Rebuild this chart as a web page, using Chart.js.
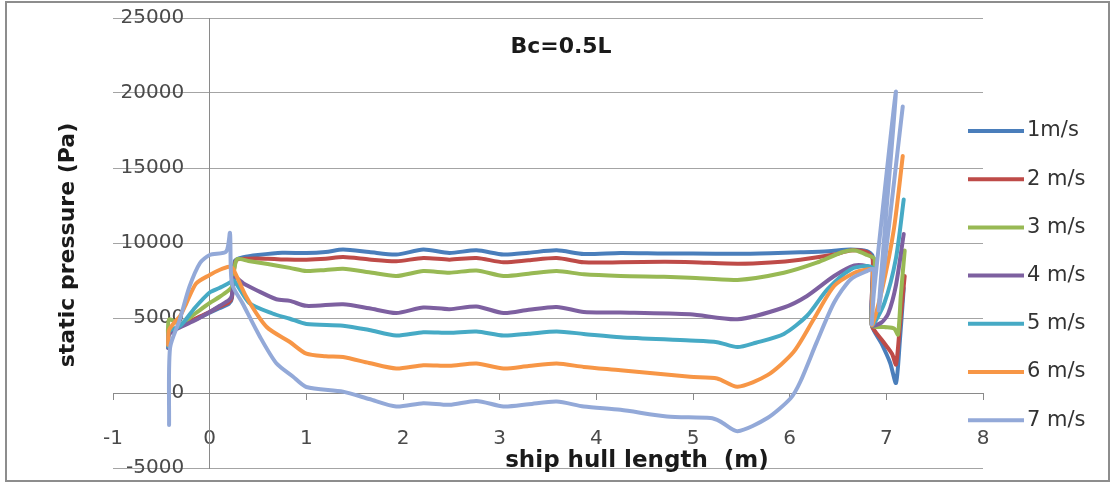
<!DOCTYPE html>
<html>
<head>
<meta charset="utf-8">
<script src="https://cdn.jsdelivr.net/npm/chart.js@4.4.0/dist/chart.umd.min.js"></script>
<style>
  html, body { margin: 0; padding: 0; background: #fff; }
  #wrap { position: relative; width: 1110px; height: 483px; }
  #frame { position: absolute; left: 5px; top: 1px; width: 1101px; height: 477px; border: 2px solid #8d8d8d; pointer-events: none; }
  canvas { display: block; }
</style>
</head>
<body>
<div id="wrap"><canvas id="c" width="1110" height="483"></canvas><div id="frame"></div></div>
<script>
// Static pressure along the hull for seven towing speeds
const speedLabels = ['1m/s', '2 m/s', '3 m/s', '4 m/s', '5 m/s', '6 m/s', '7 m/s'];
const lengthTicks = [-1, 0, 1, 2, 3, 4, 5, 6, 7, 8];
const pressureTicks = [-5000, 0, 5000, 10000, 15000, 20000, 25000];

const hullX1 = [-0.43, -0.42, -0.30, -0.15, 0.00, 0.10, 0.20, 0.23, 0.26, 0.35, 0.50, 0.75, 1.00, 1.20, 1.38, 1.65, 1.93, 2.21, 2.48, 2.76, 3.04, 3.30, 3.59, 3.87, 4.25, 4.70, 5.00, 5.46, 5.80, 6.11, 6.40, 6.63, 6.80, 6.86, 6.85, 6.95, 7.04, 7.10, 7.14, 7.18];
const pressure1 = [3000, 4000, 4450, 4900, 5350, 5650, 5950, 6300, 8800, 9050, 9200, 9350, 9330, 9400, 9560, 9400, 9230, 9560, 9340, 9510, 9230, 9350, 9510, 9270, 9340, 9300, 9300, 9280, 9320, 9380, 9450, 9560, 9450, 9100, 4530, 3300, 2000, 670, 3500, 7000];

const hullX2 = [-0.43, -0.42, -0.30, -0.15, 0.00, 0.10, 0.20, 0.23, 0.27, 0.40, 0.60, 0.80, 1.00, 1.20, 1.38, 1.65, 1.93, 2.21, 2.48, 2.76, 3.04, 3.30, 3.59, 3.87, 4.25, 4.70, 5.00, 5.46, 5.80, 6.11, 6.46, 6.63, 6.80, 6.86, 6.85, 6.97, 7.06, 7.10, 7.14, 7.19];
const pressure2 = [3100, 4050, 4450, 4950, 5400, 5750, 6050, 6400, 8800, 8950, 8950, 8900, 8890, 8950, 9060, 8900, 8780, 9000, 8890, 9000, 8710, 8850, 9000, 8710, 8710, 8750, 8720, 8620, 8700, 8890, 9230, 9500, 9400, 8900, 4530, 3400, 2600, 1900, 4500, 7800];

const hullX3 = [-0.43, -0.42, -0.30, -0.15, 0.00, 0.10, 0.20, 0.23, 0.28, 0.40, 0.60, 0.83, 1.00, 1.20, 1.38, 1.65, 1.93, 2.21, 2.48, 2.76, 3.04, 3.30, 3.59, 3.87, 4.25, 4.70, 4.97, 5.46, 5.94, 6.28, 6.55, 6.68, 6.80, 6.88, 6.85, 6.98, 7.08, 7.12, 7.15, 7.19];
const pressure3 = [3300, 4900, 4600, 5300, 6000, 6400, 6870, 7100, 8900, 8800, 8600, 8340, 8130, 8200, 8280, 8050, 7800, 8130, 8020, 8170, 7800, 7950, 8130, 7910, 7800, 7750, 7690, 7540, 8020, 8690, 9400, 9500, 9200, 8900, 4530, 4400, 4300, 3900, 6500, 9500];

const hullX4 = [-0.43, -0.42, -0.30, -0.15, 0.00, 0.10, 0.20, 0.23, 0.26, 0.35, 0.48, 0.69, 0.83, 1.00, 1.38, 1.65, 1.93, 2.21, 2.48, 2.76, 3.04, 3.30, 3.59, 3.87, 4.25, 4.97, 5.46, 5.94, 6.18, 6.46, 6.67, 6.80, 6.86, 6.85, 6.95, 7.02, 7.10, 7.18];
const pressure4 = [3000, 3900, 4400, 4850, 5400, 5800, 6200, 6500, 7700, 7300, 6870, 6250, 6140, 5810, 5920, 5650, 5330, 5700, 5590, 5770, 5330, 5550, 5740, 5400, 5370, 5250, 4920, 5700, 6470, 7800, 8500, 8460, 8200, 4530, 4700, 5300, 7200, 10600];

const hullX5 = [-0.43, -0.42, -0.30, -0.15, 0.00, 0.10, 0.20, 0.25, 0.41, 0.65, 0.83, 1.00, 1.38, 1.65, 1.93, 2.21, 2.48, 2.76, 3.04, 3.30, 3.59, 3.87, 4.25, 4.97, 5.25, 5.46, 5.65, 5.94, 6.18, 6.39, 6.63, 6.80, 6.86, 6.85, 6.98, 7.10, 7.18];
const pressure5 = [3100, 4100, 4500, 5700, 6700, 7000, 7330, 7500, 6000, 5300, 4950, 4600, 4490, 4200, 3830, 4050, 4010, 4100, 3830, 3950, 4100, 3940, 3720, 3500, 3390, 3060, 3350, 3940, 5150, 6910, 8240, 8460, 8300, 4530, 6000, 9000, 12900];

const hullX6 = [-0.43, -0.42, -0.30, -0.24, -0.14, 0.00, 0.10, 0.20, 0.24, 0.38, 0.59, 0.83, 1.00, 1.20, 1.38, 1.65, 1.93, 2.21, 2.48, 2.76, 3.04, 3.30, 3.59, 3.87, 4.25, 4.97, 5.25, 5.46, 5.77, 6.04, 6.25, 6.46, 6.67, 6.80, 6.86, 6.85, 6.96, 7.08, 7.17];
const pressure6 = [3200, 4200, 5200, 6000, 7300, 7870, 8200, 8420, 8300, 6400, 4400, 3400, 2620, 2450, 2400, 2000, 1630, 1850, 1810, 1960, 1630, 1800, 1960, 1740, 1520, 1080, 970, 420, 1190, 2730, 4930, 7130, 8020, 8240, 8200, 4530, 7000, 11000, 15800];

const hullX7 = [-0.42, -0.41, -0.31, -0.21, -0.10, 0.00, 0.17, 0.21, 0.23, 0.34, 0.52, 0.69, 0.86, 1.00, 1.38, 1.65, 1.93, 2.21, 2.48, 2.76, 3.04, 3.30, 3.59, 3.87, 4.25, 4.73, 5.18, 5.28, 5.46, 5.77, 6.01, 6.11, 6.28, 6.46, 6.63, 6.80, 6.87, 6.85, 6.87, 7.10, 6.92, 7.17];
const pressure7 = [-2130, 3000, 4870, 7070, 8670, 9200, 9420, 10670, 7300, 5980, 3750, 1980, 1100, 400, 90, -400, -900, -680, -790, -530, -900, -750, -570, -900, -1120, -1560, -1670, -1890, -2550, -1670, -350, 750, 3390, 6030, 7570, 8130, 8240, 4600, 6600, 20100, 5500, 19100];

const hullX = [hullX1, hullX2, hullX3, hullX4, hullX5, hullX6, hullX7];
const pressures = [pressure1, pressure2, pressure3, pressure4, pressure5, pressure6, pressure7];
const lineColors = ['#4a7ebb', '#be4b48', '#98b954', '#7d60a0', '#46aac5', '#f79646', '#93a9d8'];

const chartTitle = 'Bc=0.5L';
const xTitle = 'ship hull length  (m)';
const yTitle = 'static pressure (Pa)';
const FONT = 'DejaVu Sans';

const datasets = speedLabels.map((label, i) => ({
  label,
  data: hullX[i].map((x, k) => ({ x, y: pressures[i][k] })),
  showLine: true,
  borderColor: lineColors[i],
  backgroundColor: lineColors[i],
  borderWidth: 4,
  borderCapStyle: 'round',
  borderJoinStyle: 'round',
  tension: 0.25,
  pointRadius: 0,
  fill: false,
  order: speedLabels.length - 1 - i
}));

// Chart title, axis titles and the series key
const annotate = {
  id: 'annotate',
  afterDraw(chart) {
    const ctx = chart.ctx;
    ctx.save();
    ctx.fillStyle = '#1a1a1a';
    ctx.textAlign = 'center';
    ctx.textBaseline = 'alphabetic';
    ctx.font = `bold 22px "${FONT}"`;
    ctx.fillText(chartTitle, 561, 53);
    ctx.font = `bold 23px "${FONT}"`;
    ctx.fillText(xTitle, 637, 467);
    ctx.save();
    ctx.translate(68, 245);
    ctx.rotate(-Math.PI / 2);
    ctx.textBaseline = 'middle';
    ctx.font = `bold 22px "${FONT}"`;
    ctx.fillText(yTitle, 0, 0);
    ctx.restore();

    ctx.font = `21px "${FONT}"`;
    ctx.textAlign = 'left';
    ctx.textBaseline = 'middle';
    chart.data.datasets.forEach((ds, i) => {
      const y = 131 + 48.2 * i;
      ctx.strokeStyle = ds.borderColor;
      ctx.lineWidth = 4;
      ctx.lineCap = 'butt';
      ctx.beginPath();
      ctx.moveTo(968, y);
      ctx.lineTo(1024, y);
      ctx.stroke();
      ctx.fillStyle = '#333333';
      ctx.fillText(ds.label, 1027, y);
    });
    ctx.restore();
  }
};

new Chart(document.getElementById('c'), {
  type: 'scatter',
  data: { datasets },
  options: {
    responsive: false,
    animation: false,
    devicePixelRatio: 1,
    layout: { padding: { left: 113, right: 127, top: 18, bottom: 15 } },
    plugins: { legend: { display: false }, tooltip: { enabled: false }, title: { display: false } },
    scales: {
      x: {
        type: 'linear', min: -1, max: 8, position: { y: 0 },
        afterBuildTicks: s => { s.ticks = lengthTicks.map(v => ({ value: v })); },
        ticks: { callback: v => String(v), font: { family: FONT, size: 20 }, color: '#4a4a4a', padding: 28, maxRotation: 0, autoSkip: false },
        grid: { drawOnChartArea: false, drawTicks: true, tickLength: 6, color: '#8a8a8a' },
        border: { display: true, color: '#8a8a8a', width: 1 }
      },
      y: {
        type: 'linear', min: -5000, max: 25000, position: { x: 0 },
        afterBuildTicks: s => { s.ticks = pressureTicks.map(v => ({ value: v })); },
        // labels sit left of the x = 0 axis line, kept clear of it by trailing spaces
        ticks: { callback: v => String(v) + '    ', font: { family: FONT, size: 20 }, color: '#4a4a4a', padding: 0, autoSkip: false },
        grid: { color: '#a4a4a4', drawTicks: false },
        border: { display: true, color: '#8a8a8a', width: 1 }
      }
    }
  },
  plugins: [annotate]
});
</script>
</body>
</html>
